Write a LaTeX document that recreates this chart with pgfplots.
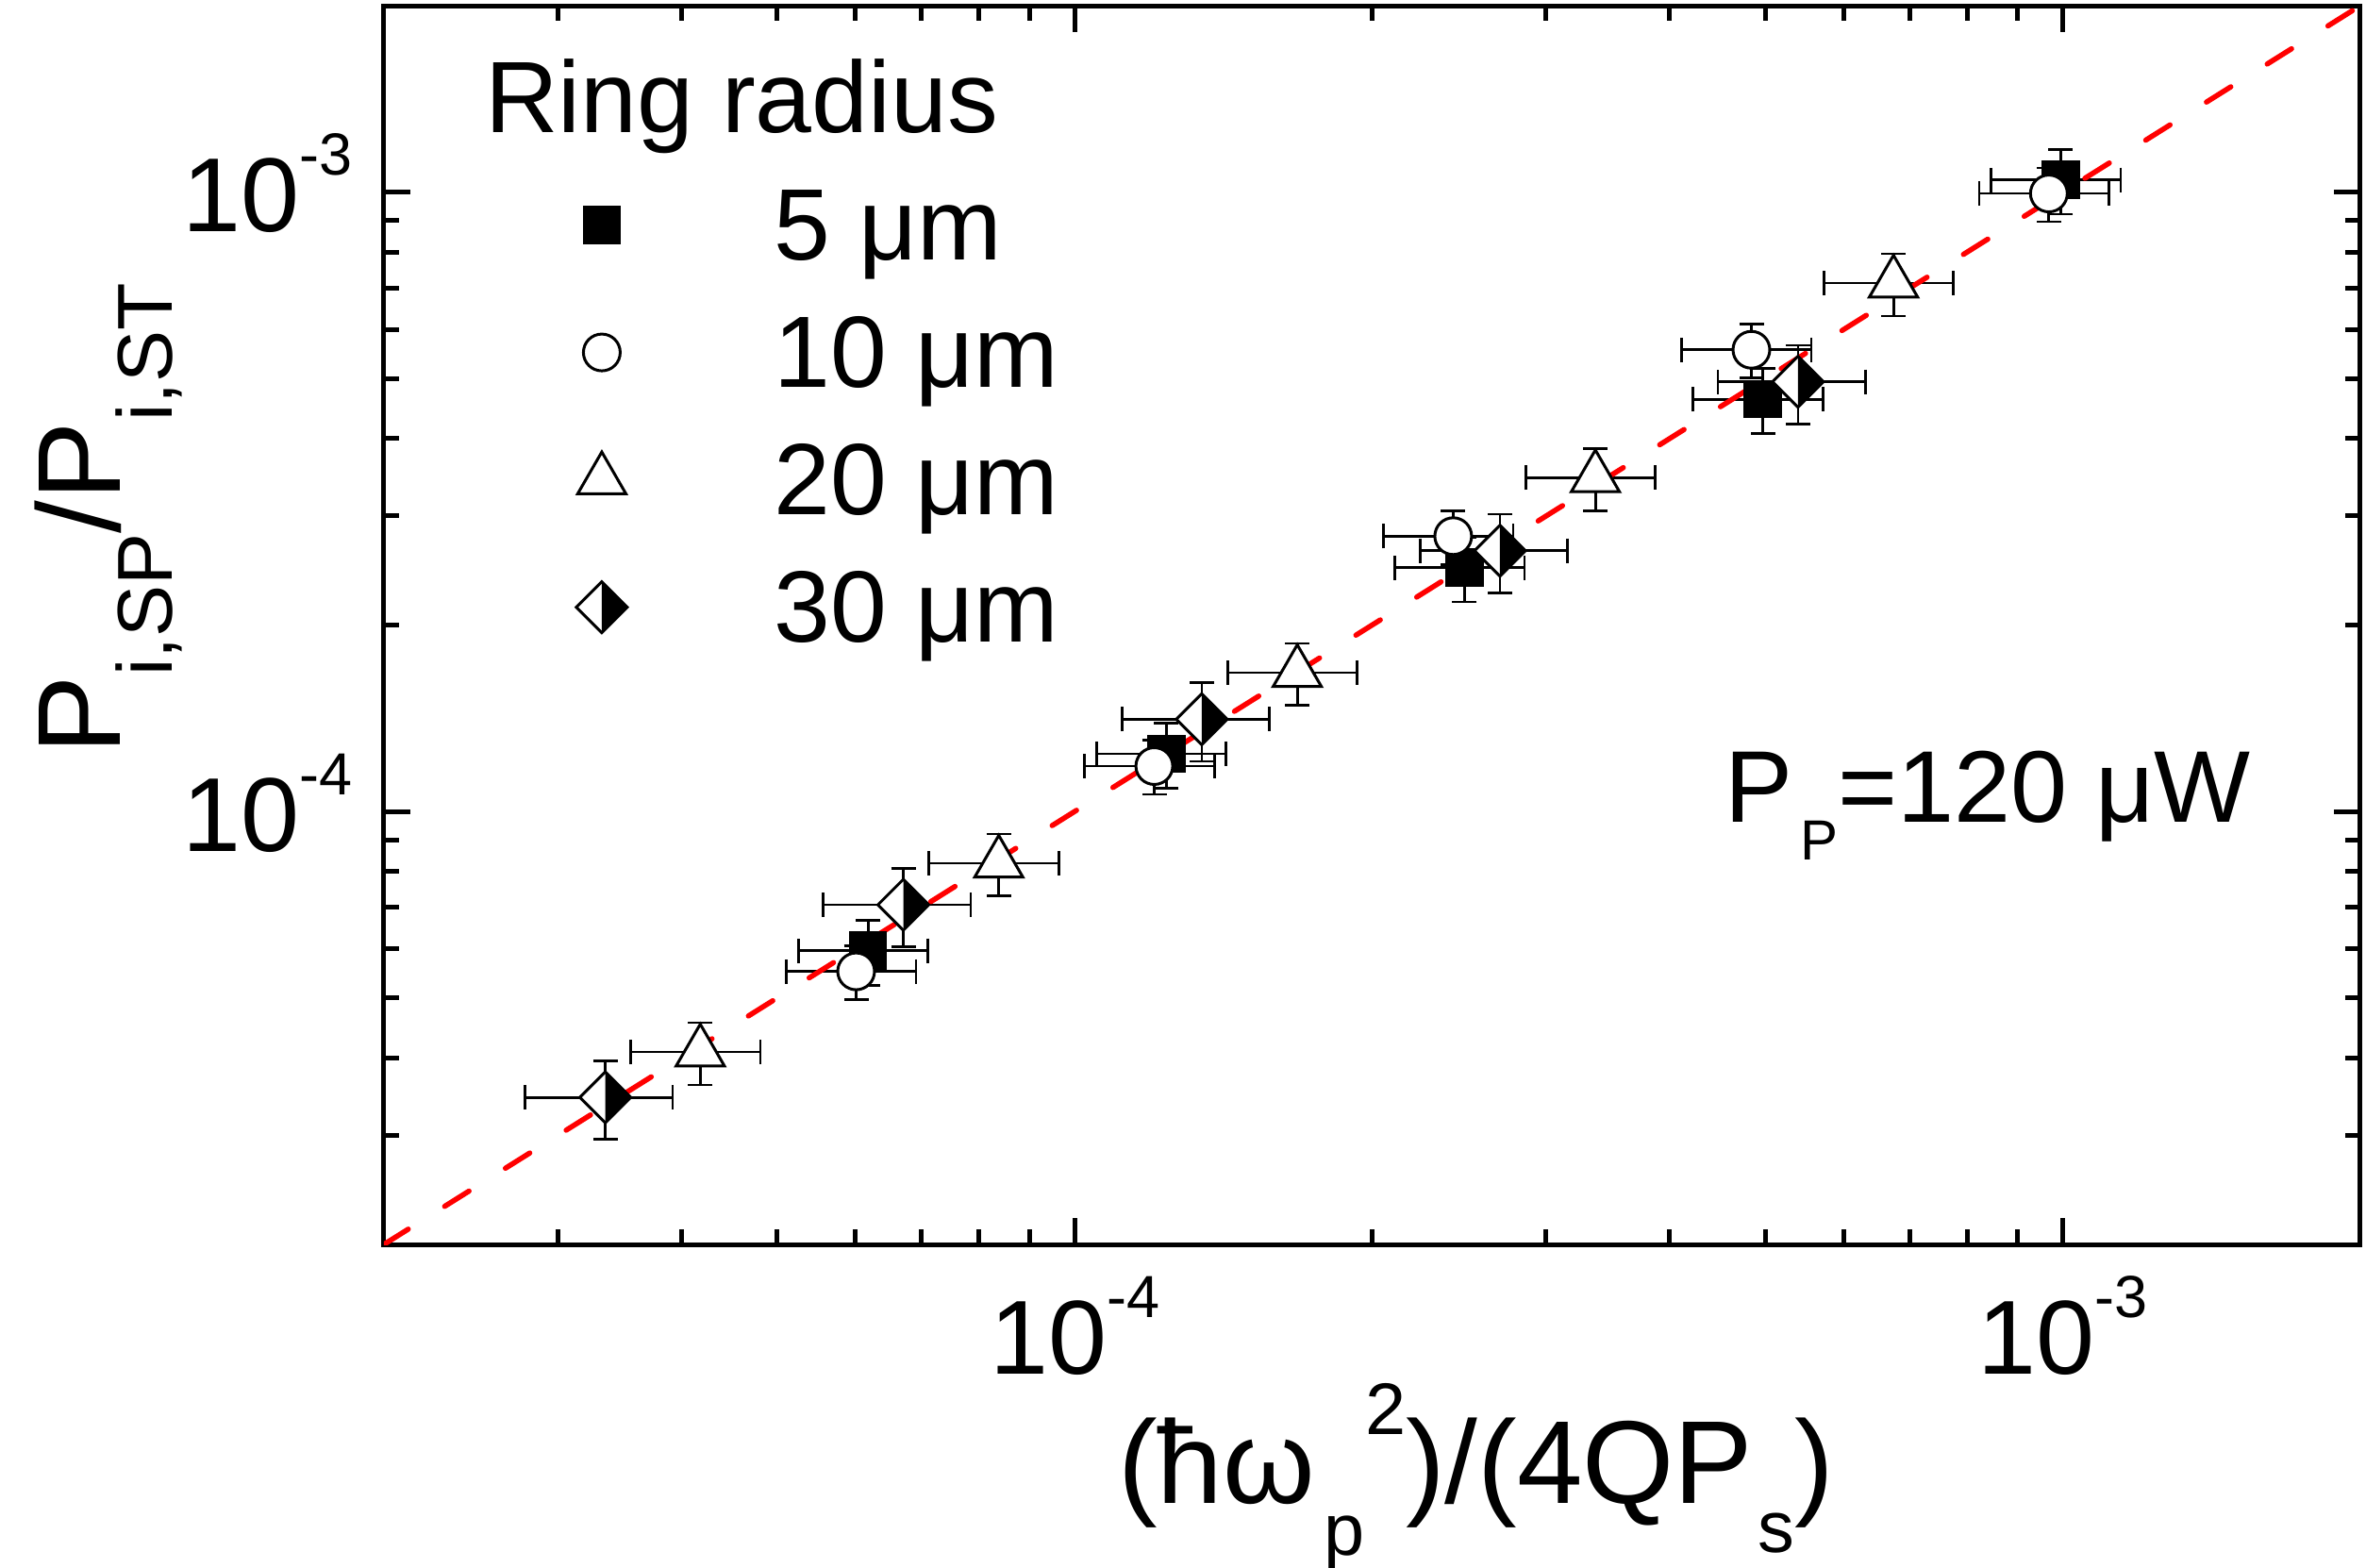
\documentclass[border=0pt]{standalone}
\usepackage{pgfplots}
\pgfplotsset{compat=1.18}
\usepackage{fontspec}
\setmainfont{Liberation Sans}

\pgfdeclareplotmark{halfdiamond}{%
  \pgfpathmoveto{\pgfqpoint{0pt}{\pgfplotmarksize}}%
  \pgfpathlineto{\pgfqpoint{\pgfplotmarksize}{0pt}}%
  \pgfpathlineto{\pgfqpoint{0pt}{-\pgfplotmarksize}}%
  \pgfpathlineto{\pgfqpoint{-\pgfplotmarksize}{0pt}}%
  \pgfpathclose
  \pgfsetfillcolor{white}%
  \pgfusepathqfill
  \pgfpathmoveto{\pgfqpoint{0pt}{\pgfplotmarksize}}%
  \pgfpathlineto{\pgfqpoint{\pgfplotmarksize}{0pt}}%
  \pgfpathlineto{\pgfqpoint{0pt}{-\pgfplotmarksize}}%
  \pgfpathclose
  \pgfsetfillcolor{black}%
  \pgfusepathqfill
  \pgfpathmoveto{\pgfqpoint{0pt}{\pgfplotmarksize}}%
  \pgfpathlineto{\pgfqpoint{\pgfplotmarksize}{0pt}}%
  \pgfpathlineto{\pgfqpoint{0pt}{-\pgfplotmarksize}}%
  \pgfpathlineto{\pgfqpoint{-\pgfplotmarksize}{0pt}}%
  \pgfpathclose
  \pgfusepathqstroke
}

\newcommand{\tl}[1]{10\raisebox{12pt}{\fontsize{12.6}{12.6}\selectfont #1}}
\newcommand{\sfs}[2]{\raisebox{#1}{\fontsize{15.5}{15.5}\selectfont #2}}

\pgfplotsset{myerr/.style={error bars/.cd, x dir=both, y dir=both,
  x explicit relative, y explicit relative,
  error bar style={black, line width=0.55pt, solid},
  error mark options={rotate=90, black, line width=0.55pt, mark size=2.6pt}}}

\begin{document}
\begin{tikzpicture}
\begin{axis}[
  width=419pt, height=262.6pt, scale only axis,
  xmode=log, ymode=log,
  xmin=2e-5, xmax=2e-3, ymin=2e-5, ymax=2e-3,
  xtick={1e-4,1e-3}, ytick={1e-4,1e-3},
  xticklabels={\tl{-4},\tl{-3}}, yticklabels={\tl{-4},\tl{-3}},
  minor xtick={3e-5,4e-5,5e-5,6e-5,7e-5,8e-5,9e-5,2e-4,3e-4,4e-4,5e-4,6e-4,7e-4,8e-4,9e-4},
  minor ytick={3e-5,4e-5,5e-5,6e-5,7e-5,8e-5,9e-5,2e-4,3e-4,4e-4,5e-4,6e-4,7e-4,8e-4,9e-4},
  tick align=inside, xtick pos=both, ytick pos=both,
  xticklabel pos=lower, yticklabel pos=left,
  major tick length=5.6pt, minor tick length=3.3pt,
  tick style={black, line width=1pt},
  axis line style={line width=1pt},
  xticklabel style={font=\fontsize{22.3}{22.3}\selectfont, anchor=base, yshift=-27.4pt, inner sep=0pt},
  yticklabel style={font=\fontsize{22.3}{22.3}\selectfont, anchor=base east, xshift=-6.5pt, yshift=-8.4pt, inner sep=0pt},
  xlabel={(ħω\hspace{2pt}\sfs{-11pt}{p}\sfs{14.5pt}{2})/(4QP\hspace{1pt}\sfs{-10.5pt}{s})},
  ylabel={P\sfs{-11pt}{\fontsize{16.5}{16.5}\selectfont i,SP}/P\sfs{-11pt}{\fontsize{16.5}{16.5}\selectfont i,ST}},
  xlabel style={at={(axis description cs:0.5525,-0.2087)}, anchor=base, inner sep=0pt, font=\fontsize{25}{25}\selectfont},
  ylabel style={at={(axis description cs:-0.1332,0.5857)}, anchor=base, inner sep=0pt, font=\fontsize{25}{25}\selectfont},
  legend style={at={(axis description cs:0.0864,0.8522)}, anchor=north west,
    draw=none, fill=none, inner sep=0pt, outer sep=0pt,
    row sep=11.6pt, column sep=26.6pt,
    font=\fontsize{21.5}{21.5}\selectfont,
    cells={anchor=west},
    nodes={inner sep=0pt, text height=15pt, text depth=0.4pt}},
  legend image code/.code={\path[draw=none,fill=none] (-10pt,0pt) -- (10pt,0pt); \draw[#1] plot coordinates {(0pt,0pt)};},
]
\addplot[only marks, mark=square*, mark size=3.75pt, mark options={draw=black, fill=black, line width=0.6pt, solid}, myerr]
coordinates {
(6.18e-5,5.96e-5) +- (0.15,0.12)
(1.238e-4,1.239e-4) +- (0.15,0.12)
(2.48e-4,2.477e-4) +- (0.15,0.12)
(4.97e-4,4.63e-4) +- (0.15,0.12)
(9.95e-4,1.047e-3) +- (0.15,0.12)
};
\addlegendentry{5 μm}
\addplot[only marks, mark=*, mark size=3.9pt, mark options={draw=black, fill=white, line width=0.6pt, solid}, myerr]
coordinates {
(6.01e-5,5.52e-5) +- (0.15,0.10)
(1.204e-4,1.184e-4) +- (0.15,0.10)
(2.416e-4,2.783e-4) +- (0.15,0.10)
(4.84e-4,5.565e-4) +- (0.15,0.10)
(9.68e-4,9.95e-4) +- (0.15,0.10)
};
\addlegendentry{10 μm}
\addplot[only marks, mark=triangle*, mark size=5.9pt, mark options={draw=black, fill=white, line width=0.6pt, solid}, myerr]
coordinates {
(4.18e-5,4.09e-5) +- (0.15,0.115)
(8.38e-5,8.25e-5) +- (0.15,0.115)
(1.68e-4,1.676e-4) +- (0.15,0.115)
(3.365e-4,3.457e-4) +- (0.15,0.115)
(6.74e-4,7.13e-4) +- (0.15,0.115)
};
\addlegendentry{20 μm}
\addplot[only marks, mark=halfdiamond, mark size=5.4pt, mark options={draw=black, line width=0.6pt, solid}, myerr]
coordinates {
(3.35e-5,3.455e-5) +- (0.17,0.145)
(6.71e-5,7.07e-5) +- (0.17,0.145)
(1.345e-4,1.409e-4) +- (0.17,0.145)
(2.694e-4,2.637e-4) +- (0.17,0.145)
(5.395e-4,4.94e-4) +- (0.17,0.145)
};
\addlegendentry{30 μm}
\addplot[red, line width=1.1pt, dash pattern=on 6.1pt off 9.1pt, line cap=round, forget plot]
coordinates {(2e-5,2e-5) (2e-3,2e-3)};
\node[anchor=base west, inner sep=0pt, font=\fontsize{21.5}{21.5}\selectfont] at (axis description cs:0.0508,0.8979) {Ring radius};
\node[anchor=base east, inner sep=0pt, font=\fontsize{21.6}{21.6}\selectfont] at (axis description cs:0.945,0.3408) {P\hspace{1.5pt}\raisebox{-8pt}{\fontsize{12}{12}\selectfont P}=120 μW};
\end{axis}
\pgfresetboundingbox
\path[use as bounding box] (-81.4pt,-68.6pt) rectangle (420.2pt,263.8pt);
\end{tikzpicture}
\end{document}
